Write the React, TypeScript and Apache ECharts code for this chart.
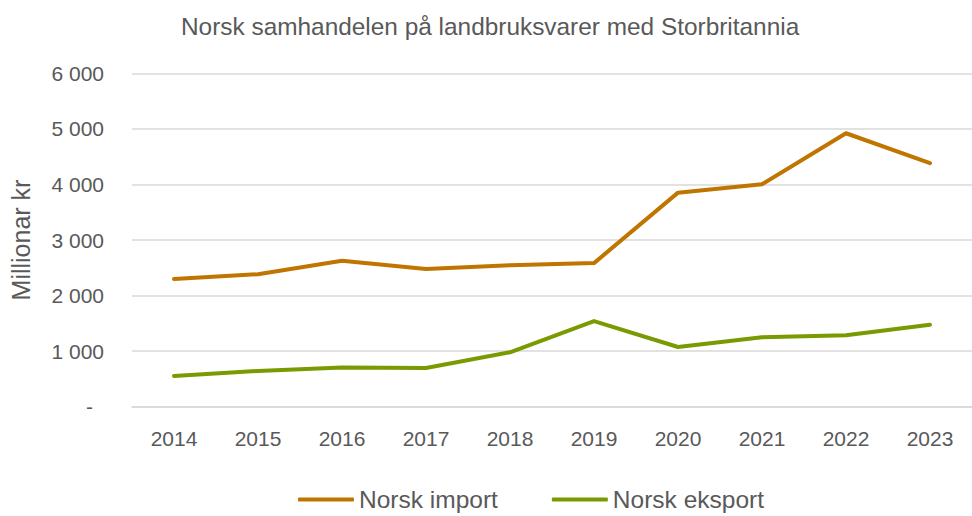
import React, { useEffect, useRef } from "react";
import * as echarts from "echarts";

const title = "Norsk samhandelen på landbruksvarer med Storbritannia";
const yAxisName = "Millionar kr";
const years = ["2014", "2015", "2016", "2017", "2018", "2019", "2020", "2021", "2022", "2023"];
const importName = "Norsk import";
const exportName = "Norsk eksport";
const importValues = [2298, 2385, 2628, 2478, 2545, 2584, 3852, 4003, 4921, 4383];
const exportValues = [553, 643, 707, 697, 979, 1540, 1075, 1249, 1285, 1476];
const yTicks = [0, 1000, 2000, 3000, 4000, 5000, 6000];

const textColor = "#595959";
const font = "'Liberation Sans', Arial, sans-serif";

function fmt(v: number): string {
  if (v === 0) return "{d|-}";
  const s = String(Math.round(v));
  return s.replace(/\B(?=(\d{3})+(?!\d))/g, " ");
}

export default function App() {
  const ref = useRef<HTMLDivElement>(null);
  useEffect(() => {
    if (!ref.current) return;
    const chart = echarts.init(ref.current, undefined, { renderer: "svg" });
    chart.setOption({
      animation: false,
      backgroundColor: "#ffffff",
      textStyle: { fontFamily: font },
      title: {
        text: title,
        left: 176,
        top: 9,
        textStyle: { color: textColor, fontSize: 24.4, fontWeight: "normal", fontFamily: font },
      },
      grid: { left: 131, right: -9, top: 73.3, bottom: 109.3, containLabel: false },
      legend: {
        left: 293,
        top: 482,
        padding: 5,
        icon: "roundRect",
        itemWidth: 56,
        itemHeight: 4,
        itemGap: 54,
        textStyle: { color: textColor, fontSize: 24.5, fontFamily: font },
        data: [importName, exportName],
      },
      xAxis: {
        type: "category",
        data: years,
        boundaryGap: true,
        axisLine: { show: true, lineStyle: { color: "#d9d9d9", width: 1.5 } },
        axisTick: { show: false },
        axisLabel: { color: textColor, fontSize: 21, margin: 21, fontFamily: font },
      },
      yAxis: {
        type: "value",
        min: yTicks[0],
        max: yTicks[yTicks.length - 1],
        interval: 1000,
        name: yAxisName,
        nameLocation: "middle",
        nameGap: 99,
        nameTextStyle: { color: textColor, fontSize: 25, fontFamily: font },
        axisLine: { show: false },
        axisTick: { show: false },
        splitLine: { lineStyle: { color: "#d9d9d9", width: 1.5 } },
        axisLabel: {
          color: textColor,
          fontSize: 21,
          margin: 28,
          fontFamily: font,
          formatter: (v: number) => fmt(v),
          rich: { d: { color: textColor, fontSize: 21, fontFamily: font, padding: [0, 11, 0, 0] } },
        },
      },
      series: [
        {
          name: importName,
          type: "line",
          data: importValues,
          symbol: "none",
          color: "#C07500",
          lineStyle: { color: "#C07500", width: 4, cap: "round", join: "round" },
        },
        {
          name: exportName,
          type: "line",
          data: exportValues,
          symbol: "none",
          color: "#7A9A01",
          lineStyle: { color: "#7A9A01", width: 4, cap: "round", join: "round" },
        },
      ],
    });
    return () => chart.dispose();
  }, []);
  return (
    <div
      ref={ref}
      style={{ position: "absolute", left: 0, top: 0, width: 972, height: 516 }}
    />
  );
}
